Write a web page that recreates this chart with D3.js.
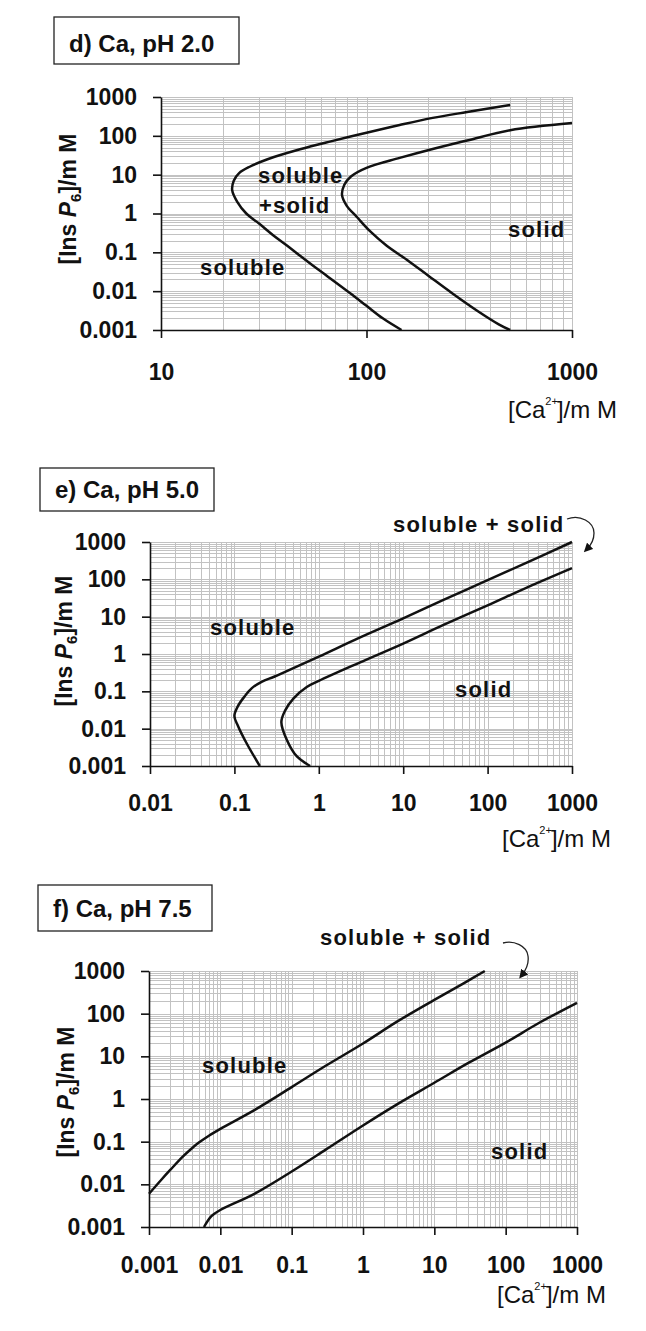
<!DOCTYPE html>
<html>
<head>
<meta charset="utf-8">
<script src="https://cdn.jsdelivr.net/npm/d3@7"></script>
<style>
  body { margin: 0; background: #fff; }
  svg text { font-family: "Liberation Sans", Arial, Helvetica, sans-serif; fill: #111; }
</style>
</head>
<body>
<svg id="chart" width="646" height="1331"></svg>
<script>
// values, [Ca2+] in mM vs [InsP6] in mM
var titles = ["d) Ca, pH 2.0", "e) Ca, pH 5.0", "f) Ca, pH 7.5"];
var yTicks = [0.001, 0.01, 0.1, 1, 10, 100, 1000];
var yTickLabels = ["0.001", "0.01", "0.1", "1", "10", "100", "1000"];
var dXTicks = [10, 100, 1000];
var dXTickLabels = ["10", "100", "1000"];
var eXTicks = [0.01, 0.1, 1, 10, 100, 1000];
var eXTickLabels = ["0.01", "0.1", "1", "10", "100", "1000"];
var fXTicks = [0.001, 0.01, 0.1, 1, 10, 100, 1000];
var fXTickLabels = ["0.001", "0.01", "0.1", "1", "10", "100", "1000"];

// pH 2.0 boundaries
var dSoluble = [[148,0.001],[120,0.002],[100,0.0042],[83,0.009],[64,0.025],[55,0.045],[47,0.085],[41,0.15],
  [35,0.28],[30,0.55],[26,1],[23.5,2],[22.2,4],[22.6,7],[24,11],[27,16],[33,25],[47.5,45],[67,72],[100,120],
  [145,190],[210,290],[309,410],[500,620]];
var dSolid = [[500,0.001],[440,0.0014],[350,0.003],[260,0.009],[200,0.025],[160,0.06],[125,0.15],[104,0.35],
  [90,0.8],[80,1.6],[76,3],[78,5.5],[84,9],[100,15],[145,27],[210,46],[309,76],[500,140],[1000,214]];
// pH 5.0 boundaries
var eSoluble = [[0.2,0.001],[0.14,0.004],[0.11,0.012],[0.1,0.022],[0.11,0.04],[0.13,0.07],[0.16,0.12],
  [0.21,0.18],[0.3,0.25],[0.5,0.42],[1,0.85],[3,2.7],[10,9],[30,28],[100,95],[300,290],[1000,1000]];
var eSolid = [[0.79,0.001],[0.55,0.0018],[0.42,0.0049],[0.36,0.015],[0.4,0.031],[0.5,0.064],[0.72,0.13],
  [1,0.19],[3,0.58],[10,1.9],[30,6],[100,20],[300,62],[1000,200]];
// pH 7.5 boundaries
var fSoluble = [[0.001,0.006],[0.0015,0.013],[0.002,0.022],[0.003,0.045],[0.004,0.07],[0.005,0.095],
  [0.007,0.14],[0.01,0.2],[0.03,0.55],[0.1,1.9],[0.3,6],[1,20],[3,65],[10,210],[25,500],[51,1000]];
var fSolid = [[0.0059,0.001],[0.0075,0.0018],[0.01,0.0025],[0.03,0.006],[0.1,0.02],[0.3,0.065],[1,0.24],
  [3,0.75],[10,2.4],[30,7],[100,21],[300,62],[1000,180]];

var svg = d3.select("#chart");

svg.append("defs").append("marker")
  .attr("id", "head")
  .attr("viewBox", "0 0 10 10")
  .attr("refX", 5).attr("refY", 5)
  .attr("markerWidth", 9).attr("markerHeight", 9)
  .attr("markerUnits", "userSpaceOnUse")
  .attr("orient", "auto")
  .append("path").attr("d", "M0,0 L10,5 L0,10 z").attr("fill", "#111");

var panels = [
  { title: titles[0], box: [54, 17, 185, 47], titleX: 69, titleY: 52,
    left: 161, right: 572, top: 97, bottom: 330, xTicks: dXTicks, xLabels: dXTickLabels, xPad: 26,
    caX: 508, caY: 418, insX: 76, insY: 199,
    curves: [dSoluble, dSolid],
    notes: [["soluble", 258, 183], ["+solid", 259, 213], ["solid", 508, 237], ["soluble", 200, 275]] },
  { title: titles[1], box: [40, 468, 174, 43], titleX: 55, titleY: 498,
    left: 150, right: 572, top: 542, bottom: 766, xTicks: eXTicks, xLabels: eXTickLabels, xPad: 21,
    caX: 502, caY: 847, insX: 72, insY: 641,
    curves: [eSoluble, eSolid],
    notes: [["soluble + solid", 393, 532], ["soluble", 210, 635], ["solid", 455, 697]],
    arrow: "M567,519 C580,514 594,522 594,533 C594,540 591,545 587,549" },
  { title: titles[2], box: [38, 885, 174, 46], titleX: 53, titleY: 917,
    left: 149, right: 577, top: 971, bottom: 1227, xTicks: fXTicks, xLabels: fXTickLabels, xPad: 22,
    caX: 497, caY: 1303, insX: 74, insY: 1092,
    curves: [fSoluble, fSolid],
    notes: [["soluble + solid", 320, 945], ["soluble", 202, 1073], ["solid", 491, 1159]],
    arrow: "M503,943 C514,940 527,946 528,956 C529,963 526,970 522,975" }
];

panels.forEach(function(p) {
  var x = d3.scaleLog().domain([p.xTicks[0], p.xTicks[p.xTicks.length - 1]]).range([p.left, p.right]);
  var y = d3.scaleLog().domain([0.001, 1000]).range([p.bottom, p.top]);
  var g = svg.append("g");

  // title box
  g.append("rect")
    .attr("x", p.box[0]).attr("y", p.box[1]).attr("width", p.box[2]).attr("height", p.box[3])
    .attr("fill", "#fff").attr("stroke", "#222").attr("stroke-width", 1.3);
  g.append("text").attr("x", p.titleX).attr("y", p.titleY)
    .attr("font-size", 24).attr("font-weight", "bold").text(p.title);

  // log grid, every minor step
  g.append("g").selectAll("line").data(x.ticks()).enter().append("line")
    .attr("x1", function(d) { return Math.round(x(d)) + 0.5; })
    .attr("x2", function(d) { return Math.round(x(d)) + 0.5; })
    .attr("y1", p.top).attr("y2", p.bottom)
    .attr("stroke", "#c2c2c2").attr("stroke-width", 1);
  g.append("g").selectAll("line").data(y.ticks()).enter().append("line")
    .attr("y1", function(d) { return Math.round(y(d)) + 0.5; })
    .attr("y2", function(d) { return Math.round(y(d)) + 0.5; })
    .attr("x1", p.left).attr("x2", p.right)
    .attr("stroke", "#c2c2c2").attr("stroke-width", 1);

  // axes
  var ax = g.append("g").attr("transform", "translate(0," + p.bottom + ")")
    .call(d3.axisBottom(x).tickValues(p.xTicks)
      .tickFormat(function(d, i) { return p.xLabels[i]; })
      .tickSize(8).tickSizeOuter(0).tickPadding(p.xPad));
  var ay = g.append("g").attr("transform", "translate(" + p.left + ",0)")
    .call(d3.axisLeft(y).tickValues(yTicks)
      .tickFormat(function(d, i) { return yTickLabels[i]; })
      .tickSize(8).tickSizeOuter(0).tickPadding(16));
  [ax, ay].forEach(function(a) {
    a.attr("font-family", null).attr("font-size", null);
    a.select(".domain").attr("stroke", "#111").attr("stroke-width", 1.6);
    a.selectAll(".tick line").attr("stroke", "#111").attr("stroke-width", 1.6);
    a.selectAll(".tick text").attr("fill", "#111").attr("font-size", 23).attr("font-weight", "bold");
  });

  // boundary curves
  var line = d3.line()
    .x(function(d) { return x(d[0]); })
    .y(function(d) { return y(d[1]); })
    .curve(d3.curveCatmullRom.alpha(0.5));
  g.selectAll(".curve").data(p.curves).enter().append("path")
    .attr("d", line)
    .attr("fill", "none").attr("stroke", "#111").attr("stroke-width", 2.5);

  // region labels
  p.notes.forEach(function(n) {
    g.append("text").attr("x", n[1]).attr("y", n[2])
      .attr("font-size", 22).attr("font-weight", "bold").attr("letter-spacing", 1.2)
      .attr("fill", "#222").text(n[0]);
  });
  if (p.arrow) {
    g.append("path").attr("d", p.arrow)
      .attr("fill", "none").attr("stroke", "#222").attr("stroke-width", 1.3)
      .attr("marker-end", "url(#head)");
  }

  // axis titles
  var ca = g.append("text").attr("x", p.caX).attr("y", p.caY).attr("font-size", 24);
  ca.append("tspan").text("[Ca");
  ca.append("tspan").attr("font-size", 11).attr("dy", -13).attr("dx", 0).text("2+");
  ca.append("tspan").attr("dy", 13).attr("dx", -1).text("]/m M");

  var ins = g.append("text")
    .attr("transform", "translate(" + p.insX + "," + p.insY + ") rotate(-90)")
    .attr("text-anchor", "middle").attr("font-size", 23).attr("font-weight", "bold");
  ins.append("tspan").text("[Ins ");
  ins.append("tspan").attr("font-style", "italic").text("P");
  ins.append("tspan").attr("font-size", 15).attr("dy", 5).text("6");
  ins.append("tspan").attr("dy", -5).text("]/m M");
});
</script>
</body>
</html>
